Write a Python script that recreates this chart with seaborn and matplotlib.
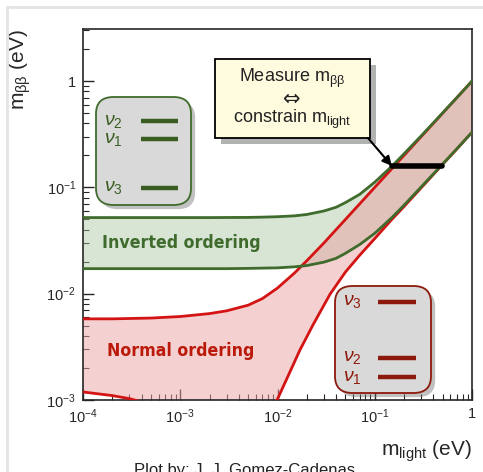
import matplotlib
matplotlib.use("Agg")
import numpy as np
import matplotlib.pyplot as plt
import seaborn as sns
from matplotlib.patches import FancyBboxPatch, Rectangle
from matplotlib.lines import Line2D
from matplotlib import patheffects as pe
from matplotlib import font_manager as fm
from matplotlib.ticker import LogLocator, FuncFormatter, NullFormatter

# lightest neutrino mass grid (eV)
m_light = [1e-4, 2e-4, 5e-4, 1e-3, 2e-3, 3e-3, 5e-3, 7e-3, 1e-2, 1.5e-2, 2e-2,
           3e-2, 4e-2, 5e-2, 0.07, 0.1, 0.15, 0.2, 0.3, 0.5, 0.7, 1.0]

# inverted ordering band
io_upper = [0.052, 0.052, 0.052, 0.052, 0.052, 0.0521, 0.0522, 0.0525, 0.053,
            0.054, 0.0556, 0.060, 0.065, 0.072, 0.086, 0.112, 0.158, 0.207,
            0.305, 0.503, 0.70, 1.0]
io_lower = [0.0172, 0.0172, 0.0172, 0.0172, 0.0172, 0.0172, 0.0173, 0.0174,
            0.0175, 0.0179, 0.0184, 0.0198, 0.0215, 0.024, 0.029, 0.037, 0.052,
            0.068, 0.101, 0.166, 0.231, 0.33]

# normal ordering band
no_upper = [0.0058, 0.0058, 0.0059, 0.0061, 0.0065, 0.0069, 0.0078, 0.0090,
            0.0113, 0.0157, 0.0204, 0.030, 0.040, 0.050, 0.070, 0.100, 0.150,
            0.200, 0.300, 0.500, 0.70, 1.0]
m_no_low = [1e-4, 2e-4, 3e-4, 4e-4, 6e-4, 8e-4, 1e-3, 7e-3, 8e-3, 9e-3, 0.0099,
            0.0134, 0.017, 0.0232, 0.0347, 0.05, 0.07, 0.1, 0.15, 0.2, 0.3,
            0.5, 0.7, 1.0]
no_lower = [1.19e-3, 1.10e-3, 1.03e-3, 0.96e-3, 0.7e-3, 0.3e-3, 1e-5, 1e-5,
            3e-4, 6.5e-4, 1.0e-3, 1.83e-3, 2.95e-3, 5.1e-3, 9.9e-3, 0.016,
            0.023, 0.033, 0.05, 0.066, 0.099, 0.165, 0.23, 0.33]

# measurement bar
meas_m = [0.15, 0.49]
meas_mbb = [0.159, 0.159]

sns.set_style("ticks")
plt.rcParams['font.family'] = ['Liberation Sans', 'DejaVu Sans']
plt.rcParams['mathtext.fontset'] = 'custom'
plt.rcParams['mathtext.rm'] = 'Liberation Sans'
plt.rcParams['mathtext.it'] = 'Liberation Sans:italic'

GREEN = '#3f6b2c'
RED = '#d41414'
DKRED = '#8c1a0c'

# a condensed bold face for the band labels, if one is installed
band_font = None
for f in fm.fontManager.ttflist:
    narrowish = ('Condensed' in f.name or 'Narrow' in f.name
                 or str(f.stretch) in ('condensed', 'semi-condensed', '75', '87'))
    if narrowish and f.weight in ('bold', 700, '700', 'heavy', 800):
        band_font = fm.FontProperties(fname=f.fname, size=12.7)
        break
if band_font is None:
    band_font = fm.FontProperties(family='DejaVu Sans', weight='bold', size=10.5)

fig = plt.figure(figsize=(4.83, 4.72), dpi=100)
ax = fig.add_axes([83 / 483, 1 - 400 / 472, 389 / 483, 371 / 472])
ax.set_xscale('log')
ax.set_yscale('log')
ax.set_xlim(1e-4, 1)
ax.set_ylim(1e-3, 3.09)


def px(x, y):
    return ((x - 83) / 389, (400 - y) / 371)


# bands
ax.fill(np.concatenate([m_light, m_light[::-1]]),
        np.concatenate([io_upper, io_lower[::-1]]),
        color='#a9c4a0', alpha=0.45, lw=0, zorder=1)
ax.fill(np.concatenate([m_light, m_no_low[::-1]]),
        np.concatenate([no_upper, no_lower[::-1]]),
        color='#eba2a2', alpha=0.5, lw=0, zorder=1)

sns.lineplot(x=m_light, y=no_upper, ax=ax, color=RED, lw=2, estimator=None, zorder=3)
sns.lineplot(x=m_no_low, y=no_lower, ax=ax, color=RED, lw=2, estimator=None, zorder=3)
sns.lineplot(x=m_light, y=io_upper, ax=ax, color=GREEN, lw=2, estimator=None, zorder=4)
sns.lineplot(x=m_light, y=io_lower, ax=ax, color=GREEN, lw=2, estimator=None, zorder=4)
sns.lineplot(x=meas_m, y=meas_mbb, ax=ax, color='black', lw=4, estimator=None, zorder=6)

# axes styling
fmt = FuncFormatter(lambda v, p: '1' if abs(v - 1) < 1e-9 else r'$10^{%d}$' % round(np.log10(v)))
for axis in (ax.xaxis, ax.yaxis):
    axis.set_major_locator(LogLocator(base=10, numticks=10))
    axis.set_minor_locator(LogLocator(base=10, subs=np.arange(2, 10), numticks=50))
    axis.set_major_formatter(fmt)
    axis.set_minor_formatter(NullFormatter())
ax.tick_params(which='major', direction='in', length=8, width=1, labelsize=10.5, pad=5)
ax.tick_params(which='minor', direction='in', length=4, width=0.8)
for s in ax.spines.values():
    s.set_linewidth(1.2)

ax.set_ylabel(r'$\mathregular{m_{\beta\beta}}$ (eV)', fontsize=15, loc='top')
ax.yaxis.set_label_coords(-0.128, 1.0)
ax.set_xlabel(r'$\mathregular{m_{light}}$ (eV)', fontsize=15, loc='right')
ax.xaxis.set_label_coords(1.0, -0.105)

# band labels
ax.text(*px(181, 243), 'Inverted ordering', transform=ax.transAxes, ha='center',
        va='center', fontproperties=band_font, color=GREEN, zorder=5)
ax.text(*px(181, 351), 'Normal ordering', transform=ax.transAxes, ha='center',
        va='center', fontproperties=band_font, color='#bb1a0a', zorder=5)

# level-scheme boxes
shadow = [pe.SimplePatchShadow(offset=(3, -3), shadow_rgbFace='#666666', alpha=0.4), pe.Normal()]


def scheme_box(x0, y0, x1, y1, edge):
    bl = px(x0, y1)
    tr = px(x1, y0)
    box = FancyBboxPatch(bl, tr[0] - bl[0], tr[1] - bl[1],
                         boxstyle='round,pad=0,rounding_size=0.045',
                         transform=ax.transAxes, facecolor='#d9d9d9',
                         edgecolor=edge, lw=1.3, zorder=7)
    box.set_path_effects(shadow)
    ax.add_patch(box)


def level(lbl, xl, y, xb0, xb1, color):
    ax.text(*px(xl, y), lbl, transform=ax.transAxes, ha='left', va='center',
            fontsize=14, color=color, zorder=8)
    a, b = px(xb0, y), px(xb1, y)
    ax.add_line(Line2D([a[0], b[0]], [a[1], b[1]], transform=ax.transAxes,
                       color=color, lw=3.2, solid_capstyle='butt', zorder=8))


scheme_box(96, 97, 191, 205, GREEN)
level(r'$\nu_2$', 104, 121, 141, 178, '#3a5e22')
level(r'$\nu_1$', 104, 139, 141, 178, '#3a5e22')
level(r'$\nu_3$', 104, 188, 141, 178, '#3a5e22')
scheme_box(335, 286, 431, 393, DKRED)
level(r'$\nu_3$', 343, 302, 378, 416, DKRED)
level(r'$\nu_2$', 343, 358, 378, 416, DKRED)
level(r'$\nu_1$', 343, 377, 378, 416, DKRED)

# measurement note box
bl, tr = px(215, 138), px(370, 59)
note = Rectangle(bl, tr[0] - bl[0], tr[1] - bl[1], transform=ax.transAxes,
                 facecolor='#fffbdf', edgecolor='black', lw=1.3, zorder=9)
note.set_path_effects([pe.SimplePatchShadow(offset=(4, -4), shadow_rgbFace='#555555', alpha=0.45),
                       pe.Normal()])
ax.add_patch(note)
ax.text(*px(292, 78), 'Measure $\\mathregular{m_{\\beta\\beta}}$', transform=ax.transAxes,
        ha='center', va='center', fontsize=13, color='#222222', zorder=10)
ax.text(*px(292, 99), '\u21d4', transform=ax.transAxes, family='DejaVu Sans',
        ha='center', va='center', fontsize=15, color='#222222', zorder=10)
ax.text(*px(292, 119), 'constrain $\\mathregular{m_{light}}$', transform=ax.transAxes,
        ha='center', va='center', fontsize=13, color='#222222', zorder=10)
ax.annotate('', xy=(meas_m[0], meas_mbb[0]), xycoords='data',
            xytext=px(368, 138), textcoords='axes fraction',
            arrowprops=dict(arrowstyle='-|>', color='black', lw=1.5,
                            shrinkA=0, shrinkB=0, mutation_scale=14),
            zorder=9)

# slide frame and credit line
fig.add_artist(Line2D([7 / 483, 7 / 483], [0, 1 - 7 / 472], transform=fig.transFigure,
                      color='#e4e4e4', lw=2))
fig.add_artist(Line2D([7 / 483, 1], [1 - 7 / 472, 1 - 7 / 472], transform=fig.transFigure,
                      color='#e4e4e4', lw=2))
fig.text(245 / 483, 1 - 463 / 472, 'Plot by: J. J. Gomez-Cadenas', ha='center', va='top',
         fontsize=12, color='#222222')

fig.savefig('out.png', dpi=100)
